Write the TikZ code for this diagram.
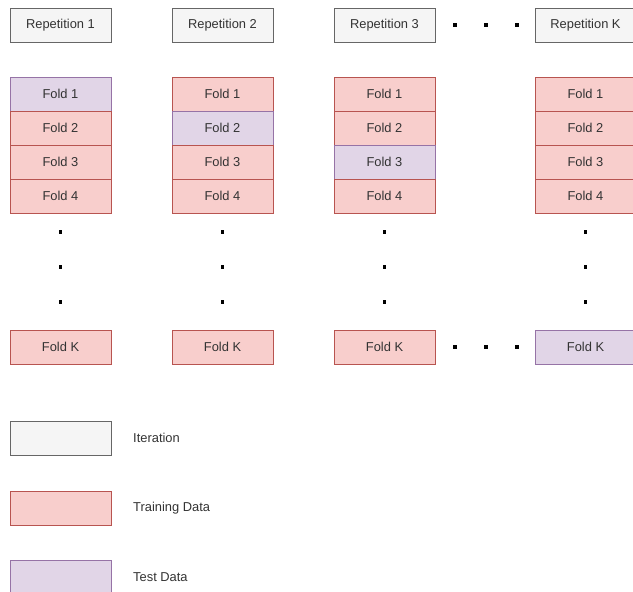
\documentclass[tikz,border=0pt]{standalone}
\usepackage{fontspec}
\setmainfont{Liberation Sans}
\usetikzlibrary{positioning}
\definecolor{iterfill}{HTML}{F5F5F5}
\definecolor{iterline}{HTML}{666666}
\definecolor{trainfill}{HTML}{F8CECC}
\definecolor{trainline}{HTML}{B85450}
\definecolor{testfill}{HTML}{E1D5E7}
\definecolor{testline}{HTML}{9673A6}
\definecolor{labeltext}{HTML}{333333}

\begin{document}
\begin{tikzpicture}[x=0.03cm, y=-0.03cm,
    box/.style={draw, line width=0.8pt, minimum width=3.03cm, minimum height=1.02cm,
                inner sep=0pt, text=labeltext, font=\fontsize{11}{13}\selectfont},
    iterbox/.style={box, fill=iterfill, draw=iterline},
    trainbox/.style={box, fill=trainfill, draw=trainline},
    testbox/.style={box, fill=testfill, draw=testline},
    dotmark/.style={fill=black, inner sep=0pt, minimum size=3pt},
    legendtext/.style={anchor=west, inner sep=0pt, text=labeltext, font=\fontsize{11}{13}\selectfont}]
    % Frame
    \useasboundingbox (0,0) rectangle (633,592);
    % Repetitions and their folds
    \foreach \c/\x/\t/\lab in {1/60.5/1/1, 2/222.5/2/2, 3/384.5/3/3, 4/585.5/5/K}{
        \node[iterbox] (rep\c) at (\x,25) {Repetition \lab};
        \foreach \r/\y in {1/94, 2/128, 3/162, 4/196, 5/347}{
            \ifnum\r=\t\relax \tikzset{foldbox/.style=testbox}\else \tikzset{foldbox/.style=trainbox}\fi
            \ifnum\r=5\relax \def\foldlab{K}\else \def\foldlab{\r}\fi
            \node[foldbox] (fold\c-\r) at (\x,\y) {Fold \foldlab};
        }
        \foreach \d/\y in {1/232, 2/267, 3/302}
            \node[dotmark] (vdot\c-\d) at (\x,\y) {};
    }
    % Horizontal dots between Repetition 3 and K
    \foreach \d/\x in {1/455, 2/486, 3/517}{
        \node[dotmark] (hdot\d) at (\x,25) {};
        \node[dotmark] (kdot\d) at (\x,347) {};
    }
    % Legend
    \node[iterbox]  (legiter)  at (60.5,438) {};
    \node[trainbox] (legtrain) at (60.5,508) {};
    \node[testbox]  (legtest)  at (60.5,577) {};
    \node[legendtext] (txtiter)  at (133,438) {Iteration};
    \node[legendtext] (txttrain) at (133,508) {Training Data};
    \node[legendtext] (txttest)  at (133,577) {Test Data};
\end{tikzpicture}
\end{document}
